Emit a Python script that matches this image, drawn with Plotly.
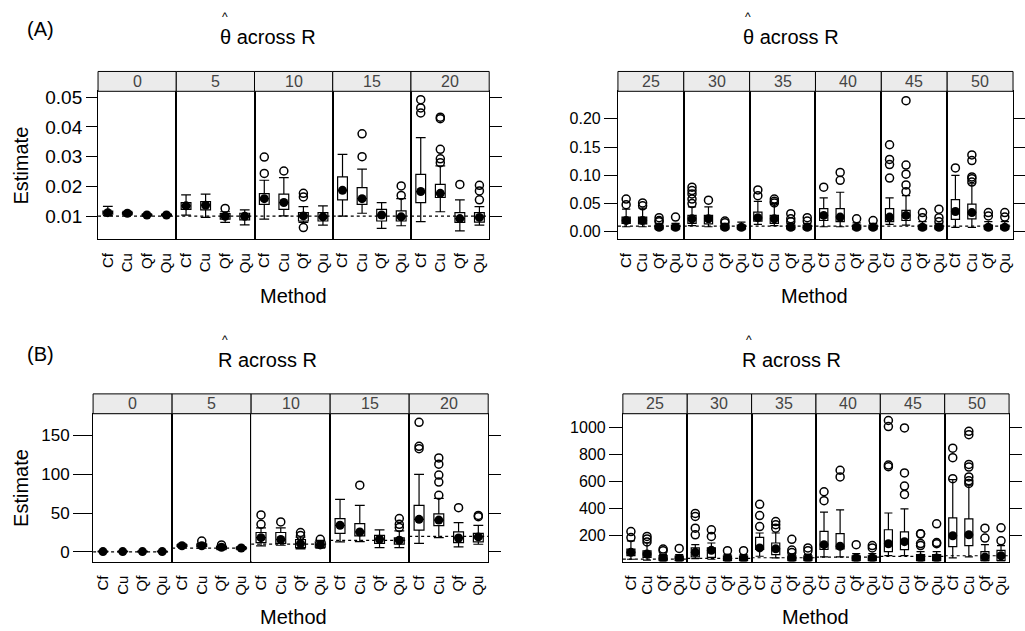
import plotly.graph_objects as go

W, H = 1025, 631
FONT = "Liberation Sans, Arial, Helvetica, sans-serif"

methods = ["Cf", "Cu", "Qf", "Qu"]

# ---------------- (A) theta-hat, R = 0..20 ----------------
theta_R1 = [0, 5, 10, 15, 20]
theta_true1 = [0.01, 0.01, 0.01, 0.01, 0.01]
# per panel, per method: [lower whisker, q1, median, q3, upper whisker]
theta_box1 = [
    [[0.0102, 0.0107, 0.0112, 0.0117, 0.0133], [0.0104, 0.0107, 0.0110, 0.0113, 0.0116],
     [0.0100, 0.0102, 0.0104, 0.0106, 0.0108], [0.0100, 0.0102, 0.0104, 0.0106, 0.0108]],
    [[0.0104, 0.0123, 0.0135, 0.0146, 0.0172], [0.0096, 0.0121, 0.0137, 0.0149, 0.0174],
     [0.0079, 0.0090, 0.0100, 0.0109, 0.0115], [0.0071, 0.0088, 0.0100, 0.0110, 0.0121]],
    [[0.0090, 0.0140, 0.0159, 0.0176, 0.0221], [0.0101, 0.0123, 0.0146, 0.0174, 0.0230],
     [0.0079, 0.0084, 0.0101, 0.0112, 0.0132], [0.0070, 0.0084, 0.0098, 0.0112, 0.0135]],
    [[0.0100, 0.0155, 0.0187, 0.0232, 0.0308], [0.0110, 0.0140, 0.0159, 0.0196, 0.0258],
     [0.0059, 0.0084, 0.0104, 0.0123, 0.0146], [0.0068, 0.0084, 0.0098, 0.0118, 0.0159]],
    [[0.0082, 0.0146, 0.0183, 0.0241, 0.0364], [0.0115, 0.0163, 0.0177, 0.0207, 0.0269],
     [0.0051, 0.0079, 0.0092, 0.0112, 0.0155], [0.0070, 0.0080, 0.0096, 0.0112, 0.0132]],
]
theta_out1 = [
    [[], [], [], []],
    [[], [], [0.0126], []],
    [[0.0299, 0.0244], [0.0252], [0.0177, 0.0165, 0.0062], []],
    [[], [0.0377, 0.0300], [], [0.0202, 0.0170]],
    [[0.0492, 0.0464, 0.0447], [0.0433, 0.0428, 0.0325, 0.0293, 0.0280], [0.0207], [0.0204, 0.0185, 0.0155]],
]

# ---------------- (A) theta-hat, R = 25..50 ----------------
theta_R2 = [25, 30, 35, 40, 45, 50]
theta_true2 = [0.01, 0.01, 0.01, 0.01, 0.01, 0.01]
theta_box2 = [
    [[0.009, 0.015, 0.020, 0.026, 0.040], [0.009, 0.014, 0.020, 0.026, 0.042],
     [0.004, 0.005, 0.008, 0.012, 0.015], [0.004, 0.005, 0.008, 0.012, 0.015]],
    [[0.011, 0.015, 0.023, 0.029, 0.044], [0.009, 0.014, 0.023, 0.029, 0.044],
     [0.004, 0.005, 0.008, 0.012, 0.015], [0.004, 0.005, 0.008, 0.012, 0.017]],
    [[0.013, 0.019, 0.025, 0.035, 0.054], [0.011, 0.015, 0.023, 0.029, 0.050],
     [0.004, 0.005, 0.008, 0.012, 0.015], [0.004, 0.005, 0.008, 0.012, 0.015]],
    [[0.009, 0.020, 0.029, 0.041, 0.060], [0.009, 0.018, 0.026, 0.041, 0.070],
     [0.004, 0.005, 0.008, 0.012, 0.016], [0.004, 0.005, 0.008, 0.012, 0.015]],
    [[0.013, 0.018, 0.026, 0.041, 0.060], [0.012, 0.020, 0.029, 0.038, 0.064],
     [0.004, 0.005, 0.008, 0.012, 0.018], [0.004, 0.005, 0.008, 0.012, 0.015]],
    [[0.008, 0.022, 0.036, 0.057, 0.100], [0.008, 0.023, 0.034, 0.049, 0.085],
     [0.004, 0.005, 0.008, 0.012, 0.018], [0.004, 0.005, 0.008, 0.012, 0.018]],
]
theta_out2 = [
    [[0.058, 0.048], [0.051, 0.046], [0.025, 0.020, 0.018], [0.026]],
    [[0.079, 0.073, 0.067, 0.058, 0.050], [0.056], [0.019, 0.016], []],
    [[0.074, 0.064], [0.058, 0.054, 0.051], [0.032, 0.023, 0.018], [0.025, 0.019]],
    [[0.079], [0.105, 0.091], [0.023], [0.020]],
    [[0.154, 0.128, 0.119, 0.095], [0.232, 0.118, 0.102, 0.083, 0.071], [0.034, 0.025], [0.040, 0.025, 0.018]],
    [[0.113], [0.136, 0.126, 0.097, 0.094, 0.088], [0.034, 0.028], [0.034, 0.026]],
]

# ---------------- (B) R-hat, R = 0..20 ----------------
rhat_R1 = [0, 5, 10, 15, 20]
rhat_true1 = [0, 5, 10, 15, 20]
rhat_box1 = [
    [[0, 0.2, 0.4, 0.6, 1.0], [0, 0.2, 0.4, 0.6, 1.0], [0, 0.2, 0.4, 0.6, 1.0], [0, 0.2, 0.4, 0.6, 1.0]],
    [[6, 7, 8, 9, 10], [5, 7, 8, 10, 11], [3, 4, 6, 7, 8], [3, 4, 5, 6, 7]],
    [[7.7, 12, 18.4, 25, 31], [8.6, 11, 16, 25, 31], [4, 5.6, 10.7, 16, 19], [5, 6, 9, 13, 15]],
    [[12.9, 24, 34.3, 43, 67.7], [13.3, 20.6, 25.7, 36.4, 60], [5.6, 11, 16.3, 21.4, 28.3], [5.6, 10, 15, 18, 27]],
    [[11, 28, 42, 60, 100], [18.4, 34, 41, 49, 69], [6.4, 12, 18, 25.7, 37.7], [9.9, 12.9, 19.3, 24, 34.3]],
]
rhat_out1 = [
    [[], [], [], []],
    [[], [14], [9], []],
    [[47.6, 35.6], [38.6], [25, 21], [16.3]],
    [[], [86], [], [42.9, 35.6, 31.3]],
    [[167, 136, 133], [121, 113, 99, 90, 73], [57], [47, 45.4]],
]

# ---------------- (B) R-hat, R = 25..50 ----------------
rhat_R2 = [25, 30, 35, 40, 45, 50]
rhat_true2 = [25, 30, 35, 40, 45, 50]
rhat_box2 = [
    [[24, 51, 75, 99, 160], [17, 38, 63, 87, 144], [10, 14, 30, 51, 60], [10, 14, 30, 48, 58]],
    [[28, 42, 75, 108, 132], [24, 38, 90, 108, 144], [10, 14, 32, 50, 60], [10, 14, 30, 48, 58]],
    [[46, 96, 108, 186, 218], [34, 58, 101, 144, 218], [10, 14, 32, 50, 62], [10, 14, 32, 50, 60]],
    [[42, 96, 132, 230, 372], [42, 101, 120, 213, 389], [10, 14, 34, 50, 65], [10, 14, 34, 50, 65]],
    [[51, 81, 139, 242, 366], [51, 95, 154, 227, 396], [10, 14, 34, 58, 80], [10, 14, 34, 58, 80]],
    [[34, 117, 198, 330, 613], [42, 125, 205, 322, 572], [10, 14, 40, 80, 132], [10, 14, 50, 90, 125]],
]
rhat_out2 = [
    [[229, 184], [193, 174, 152], [99, 87], [104]],
    [[363, 340, 254, 205], [242, 193], [87], [87]],
    [[430, 347, 266], [303, 279, 254], [171, 92, 73], [108, 87]],
    [[523, 457], [682, 633], [132], [125, 108]],
    [[1050, 1005, 720, 708], [995, 662, 565, 503], [213, 210, 140, 125], [286, 147, 139]],
    [[845, 775, 620], [970, 945, 725, 706, 633, 604, 585], [254, 181], [256, 160]],
]

# ---------------- layout of the four lattice groups (pixels) ----------------
groups = [
    dict(R=theta_R1, true=theta_true1, box=theta_box1, out=theta_out1,
         x0=98, x1=493, st=68, pt=88, pb=237, yr=[0.0023, 0.052], tfs=19, tl=11,
         tv=[0.01, 0.02, 0.03, 0.04, 0.05], tt=["0.01", "0.02", "0.03", "0.04", "0.05"]),
    dict(R=theta_R2, true=theta_true2, box=theta_box2, out=theta_out2,
         x0=623, x1=1022, st=68, pt=88, pb=237, yr=[-0.0129, 0.2485], tfs=16, tl=13,
         tv=[0, 0.05, 0.10, 0.15, 0.20], tt=["0.00", "0.05", "0.10", "0.15", "0.20"]),
    dict(R=rhat_R1, true=rhat_true1, box=rhat_box1, out=rhat_out1,
         x0=93, x1=492, st=393, pt=413, pb=562, yr=[-12.4, 178], tfs=17, tl=19,
         tv=[0, 50, 100, 150], tt=["0", "50", "100", "150"]),
    dict(R=rhat_R2, true=rhat_true2, box=rhat_box2, out=rhat_out2,
         x0=628, x1=1018, st=393, pt=413, pb=562, yr=[7, 1100], tfs=16, tl=13,
         tv=[200, 400, 600, 800, 1000], tt=["200", "400", "600", "800", "1000"]),
]

fig = go.Figure()
axes = {}
shapes = []
annotations = []
k = 0
for g in groups:
    n = len(g["R"])
    pw = (g["x1"] - g["x0"]) / n
    for p in range(n):
        k += 1
        xs = "" if k == 1 else str(k)
        xa, ya = "x" + xs, "y" + xs
        px0 = g["x0"] + p * pw
        px1 = px0 + pw
        axes["xaxis" + xs] = dict(
            domain=[px0 / W, px1 / W], anchor=ya, range=[-0.5, 3.5],
            tickvals=[0, 1, 2, 3], ticktext=methods, tickangle=-90,
            ticks="outside", ticklen=7, tickcolor="rgba(0,0,0,0)",
            showline=True, mirror=True, linecolor="black", linewidth=1,
            showgrid=False, zeroline=False, fixedrange=True,
            tickfont=dict(family=FONT, size=15, color="black"))
        yd = dict(
            domain=[1 - g["pb"] / H, 1 - g["pt"] / H], anchor=xa, range=g["yr"],
            tickvals=g["tv"], ticktext=g["tt"], showline=True, mirror=True,
            linecolor="black", linewidth=1, showgrid=False, zeroline=False,
            fixedrange=True, ticks="", showticklabels=False,
            tickfont=dict(family=FONT, size=g["tfs"], color="black"))
        if p == 0:
            yd.update(ticks="outside", ticklen=g["tl"], tickcolor="black", showticklabels=True, side="left")
        elif p == n - 1:
            yd.update(ticks="outside", ticklen=12, tickcolor="black", side="right")
        axes["yaxis" + xs] = yd

        # strip
        shapes.append(dict(type="rect", xref="paper", yref="paper",
                           x0=px0 / W, x1=px1 / W, y0=1 - g["pt"] / H, y1=1 - g["st"] / H,
                           fillcolor="#ebebeb", line=dict(color="black", width=1), layer="above"))
        annotations.append(dict(text=str(g["R"][p]), xref="paper", yref="paper",
                                x=(px0 + px1) / 2 / W, y=1 - (g["st"] + g["pt"]) / 2 / H,
                                xanchor="center", yanchor="middle", showarrow=False,
                                font=dict(family=FONT, size=16, color="#444444")))

        # reference (true value) line
        fig.add_trace(go.Scatter(x=[-0.5, 3.5], y=[g["true"][p]] * 2, mode="lines",
                                 line=dict(color="black", width=1.2, dash="dot"),
                                 xaxis=xa, yaxis=ya, hoverinfo="skip", showlegend=False))
        st = g["box"][p]
        fig.add_trace(go.Box(
            x=[0, 1, 2, 3],
            lowerfence=[s[0] for s in st], q1=[s[1] for s in st], median=[s[2] for s in st],
            q3=[s[3] for s in st], upperfence=[s[4] for s in st],
            width=0.5, whiskerwidth=1, boxpoints=False, fillcolor="white",
            line=dict(color="black", width=1.2), xaxis=xa, yaxis=ya,
            hoverinfo="skip", showlegend=False))
        fig.add_trace(go.Scatter(
            x=[0, 1, 2, 3], y=[s[2] for s in st], mode="markers",
            marker=dict(symbol="circle", size=9, color="black"),
            xaxis=xa, yaxis=ya, hoverinfo="skip", showlegend=False))
        ox, oy = [], []
        for m in range(4):
            for v in g["out"][p][m]:
                ox.append(m)
                oy.append(v)
        fig.add_trace(go.Scatter(
            x=ox, y=oy, mode="markers",
            marker=dict(symbol="circle-open", size=8, color="black", line=dict(width=1.5)),
            xaxis=xa, yaxis=ya, hoverinfo="skip", showlegend=False))


def txt(s, px, py, size, angle=0, anchor="center", yanchor="middle"):
    annotations.append(dict(text=s, xref="paper", yref="paper", x=px / W, y=1 - py / H,
                            xanchor=anchor, yanchor=yanchor, showarrow=False, textangle=angle,
                            borderpad=0, font=dict(family=FONT, size=size, color="black")))


txt("(A)", 40, 25, 20)
txt("(B)", 40, 353, 20)
# titles with a hat placed over the first letter
txt("\u03b8 across R", 220, 33, 20, anchor="left")
txt("^", 226, 21, 12, yanchor="bottom")
txt("\u03b8 across R", 748, 33, 20, anchor="left")
txt("^", 754, 21, 12, yanchor="bottom")
txt("R across R", 218, 359, 20, anchor="left")
txt("^", 226, 347, 12, yanchor="bottom")
txt("R across R", 747, 359, 20, anchor="left")
txt("^", 755, 347, 12, yanchor="bottom")
txt("Estimate", 20, 163, 20, -90)
txt("Estimate", 20, 488, 20, -90)
txt("Method", 295, 294, 20)
txt("Method", 822, 294, 20)
txt("Method", 295, 618, 20)
txt("Method", 823, 618, 20)

fig.update_layout(width=W, height=H, margin=dict(l=0, r=0, t=0, b=0),
                  paper_bgcolor="white", plot_bgcolor="white",
                  shapes=shapes, annotations=annotations, showlegend=False,
                  font=dict(family=FONT, color="black"), **axes)

fig.write_html("out.html")
